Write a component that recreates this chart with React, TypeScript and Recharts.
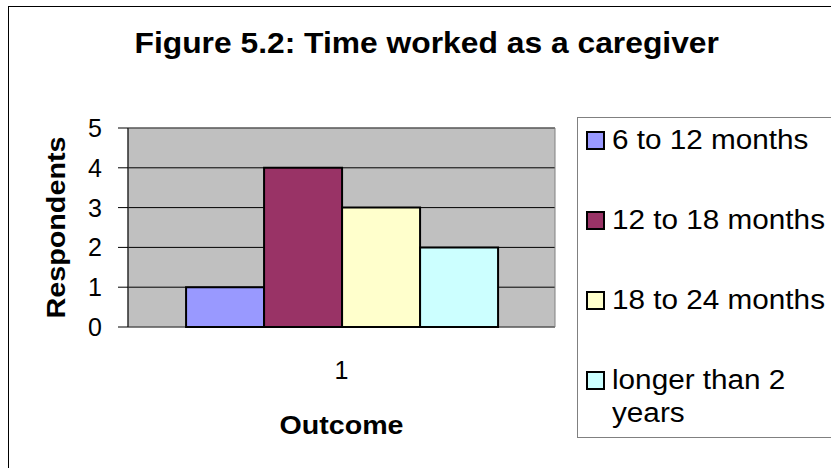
import { Bar, BarChart, CartesianGrid, Label, Legend, ReferenceArea, XAxis, YAxis } from 'recharts';

const CATEGORIES = ['1'];
const SERIES_KEYS = ['sixToTwelve', 'twelveToEighteen', 'eighteenToTwentyFour', 'overTwoYears'];
const SERIES_NAMES = ['6 to 12 months', '12 to 18 months', '18 to 24 months', 'longer than 2 years'];
const SERIES_VALUES = [1, 4, 3, 2];
const Y_TICKS = [0, 1, 2, 3, 4, 5];
const EDGE_TICKS = [0, 1];

const COLORS = ['#9999FF', '#993366', '#FFFFCC', '#CCFFFF'];
const FONT = '"Liberation Sans", Arial, sans-serif';

const data = CATEGORIES.map((c) => {
  const row: Record<string, string | number> = { outcome: c };
  SERIES_KEYS.forEach((k, i) => {
    row[k] = SERIES_VALUES[i];
  });
  return row;
});

function YTick({ x, y, payload }: any) {
  return (
    <text x={x} y={y} textAnchor="end" dominantBaseline="central" fontSize={25} fill="#000" fontFamily={FONT}>
      {payload.value}
    </text>
  );
}

function XTick({ x, y, payload }: any) {
  return (
    <text x={x} y={y + 43} textAnchor="middle" dominantBaseline="central" fontSize={25} fill="#000" fontFamily={FONT}>
      {payload.value}
    </text>
  );
}

function YTitle({ viewBox }: any) {
  const vb = viewBox || { x: 8, y: 128, width: 120, height: 199 };
  const cx = vb.x + 57;
  const cy = vb.y + vb.height / 2;
  return (
    <text
      x={cx}
      y={cy}
      textAnchor="middle"
      transform={`rotate(-90, ${cx}, ${cy})`}
      fontSize={25}
      fontWeight="bold"
      fontFamily={FONT}
      fill="#000"
      textLength={182}
      lengthAdjust="spacingAndGlyphs"
    >
      Respondents
    </text>
  );
}

function XTitle({ viewBox }: any) {
  const vb = viewBox || { x: 128, y: 327, width: 427, height: 110 };
  return (
    <text
      x={vb.x + vb.width / 2}
      y={vb.y + 98}
      textAnchor="middle"
      dominantBaseline="central"
      fontSize={26}
      fontWeight="bold"
      fontFamily={FONT}
      fill="#000"
      textLength={124}
      lengthAdjust="spacingAndGlyphs"
    >
      Outcome
    </text>
  );
}

function LegendBox() {
  return (
    <div
      style={{
        boxSizing: 'border-box',
        width: 300,
        height: 321,
        border: '1px solid #808080',
        background: '#fff',
        paddingTop: 6,
        paddingLeft: 8,
        fontFamily: FONT,
      }}
    >
      {SERIES_NAMES.map((name, i) => (
        <div key={name} style={{ display: 'flex', alignItems: 'flex-start', height: i < SERIES_NAMES.length - 1 ? 80 : 'auto' }}>
          <div
            style={{
              boxSizing: 'border-box',
              width: 19,
              height: 19,
              marginTop: 7,
              border: '2px solid #000',
              background: COLORS[i],
              flexShrink: 0,
            }}
          />
          <div
            style={{
              marginLeft: 7,
              width: 210,
              fontSize: 27,
              lineHeight: '33px',
              color: '#000',
              transform: 'scaleX(1.1)',
              transformOrigin: 'left',
            }}
          >
            {name}
          </div>
        </div>
      ))}
    </div>
  );
}

export default function App() {
  return (
    <div
      style={{
        position: 'absolute',
        left: 0,
        top: 0,
        width: 831,
        height: 468,
        overflow: 'hidden',
        background: '#fff',
        fontFamily: FONT,
      }}
    >
      <div
        style={{
          position: 'absolute',
          left: 8,
          top: 6,
          width: 900,
          height: 500,
          border: '1px solid #000',
        }}
      />
      <div
        style={{
          position: 'absolute',
          left: 0,
          top: 28,
          width: 854,
          textAlign: 'center',
          fontSize: 30,
          lineHeight: '30px',
          fontWeight: 'bold',
          color: '#000',
        }}
      >
        <span style={{ display: 'inline-block', transform: 'scaleX(1.06)' }}>Figure 5.2: Time worked as a caregiver</span>
      </div>
      <div style={{ position: 'absolute', left: 0, top: 0 }}>
        <BarChart
          width={831}
          height={468}
          data={data}
          margin={{ top: 128, right: 276, bottom: 31, left: 8 }}
          barGap={0}
          barCategoryGap="13.6%"
        >
          <CartesianGrid vertical={false} stroke="#000" fill="#C0C0C0" fillOpacity={1} />
          <XAxis
            xAxisId="edge"
            type="number"
            domain={[0, 1]}
            ticks={EDGE_TICKS}
            allowDataOverflow
            tick={false}
            tickSize={10}
            tickLine={{ stroke: '#000' }}
            axisLine={{ stroke: '#000' }}
            height={0}
          />
          <XAxis
            dataKey="outcome"
            axisLine={false}
            tickLine={false}
            tickSize={0}
            tickMargin={0}
            tick={<XTick />}
            height={110}
          >
            <Label content={<XTitle />} />
          </XAxis>
          <YAxis
            domain={[0, 5]}
            ticks={Y_TICKS}
            width={120}
            tickSize={10}
            tickMargin={16}
            tickLine={{ stroke: '#000' }}
            axisLine={{ stroke: '#000' }}
            tick={<YTick />}
          >
            <Label content={<YTitle />} />
          </YAxis>
          <ReferenceArea y1={0} y2={5} fill="none" stroke="#808080" strokeWidth={1} />
          {SERIES_KEYS.map((k, i) => (
            <Bar
              key={k}
              dataKey={k}
              name={SERIES_NAMES[i]}
              fill={COLORS[i]}
              stroke="#000"
              strokeWidth={2}
              isAnimationActive={false}
            />
          ))}
          <Legend
            layout="vertical"
            align="center"
            verticalAlign="middle"
            wrapperStyle={{ left: 577, top: 117, width: 300, height: 321 }}
            content={<LegendBox />}
          />
        </BarChart>
      </div>
    </div>
  );
}
